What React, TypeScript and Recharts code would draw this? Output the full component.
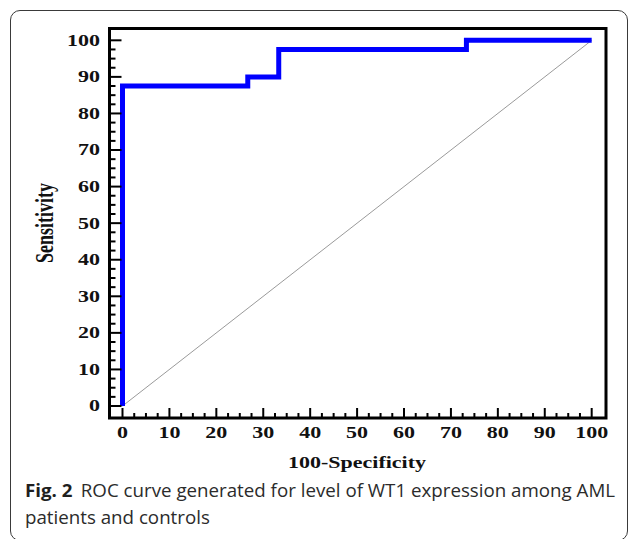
import { ComposedChart, Line, XAxis, YAxis, ReferenceArea } from "recharts";

// ROC curve (100-specificity vs sensitivity)
const rocX = [0, 0, 26.7, 26.7, 33.3, 33.3, 73.3, 73.3, 100];
const rocY = [0, 87.5, 87.5, 90, 90, 97.5, 97.5, 100, 100];
// chance diagonal
const diagX = [0, 100];
const diagY = [0, 100];

const majorTicks = [0, 10, 20, 30, 40, 50, 60, 70, 80, 90, 100];
const minorStep = 2.5;

const xTitle = "100-Specificity";
const yTitle = "Sensitivity";
const captionBold = "Fig. 2";
const captionLine1 = "ROC curve generated for level of WT1 expression among AML";
const captionLine2 = "patients and controls";

const rocData = rocX.map((x, i) => ({ x, y: rocY[i] }));
const diagData = diagX.map((x, i) => ({ x, y: diagY[i] }));
const allTicks = majorTicks.flatMap((t) =>
  t < 100 ? [t, t + minorStep, t + 2 * minorStep, t + 3 * minorStep] : [t]
);

const W = 629;
const H = 539;
const PLOT_LEFT = 109.5;
const PLOT_RIGHT = 606;
const PLOT_TOP = 28.5;
const PLOT_BOTTOM = 418;
const Y_AXIS_W = 60;
const X_AXIS_H = 40;
const STRETCH = 1.375;
const SERIF = "'Liberation Serif', 'Times New Roman', serif";

const isMajor = (v: number) => Math.abs(v % 10) < 1e-6;

function XTick({ x, payload }: any) {
  const v = payload.value as number;
  const major = isMajor(v);
  return (
    <g>
      <line x1={x} x2={x} y1={PLOT_BOTTOM} y2={PLOT_BOTTOM - (major ? 10 : 5)} stroke="#000" strokeWidth={2} />
      {major && (
        <text
          transform={`translate(${x},${438}) scale(${STRETCH},1)`}
          textAnchor="middle"
          fontFamily={SERIF}
          fontWeight="bold"
          fontSize={16}
          fill="#111"
        >
          {v}
        </text>
      )}
    </g>
  );
}

function YTick({ y, payload }: any) {
  const v = payload.value as number;
  const major = isMajor(v);
  return (
    <g>
      <line x1={PLOT_LEFT} x2={PLOT_LEFT + (major ? 12 : 6)} y1={y} y2={y} stroke="#000" strokeWidth={2} />
      {major && (
        <text
          transform={`translate(${100},${y + 5.4}) scale(${STRETCH},1)`}
          textAnchor="end"
          fontFamily={SERIF}
          fontWeight="bold"
          fontSize={16}
          fill="#111"
        >
          {v}
        </text>
      )}
    </g>
  );
}

const renderXTitle = () => (
  <text
    transform={`translate(${357},${468}) scale(${STRETCH},1)`}
    textAnchor="middle"
    fontFamily={SERIF}
    fontWeight="bold"
    fontSize={16}
    fill="#111"
  >
    {xTitle}
  </text>
);

const renderYTitle = () => (
  <text
    transform={`translate(${53},${223}) scale(${STRETCH},1) rotate(-90)`}
    textAnchor="middle"
    fontFamily={SERIF}
    fontWeight="bold"
    fontSize={18}
    fill="#111"
  >
    {yTitle}
  </text>
);

export default function App() {
  return (
    <div
      style={{
        position: "absolute",
        left: 0,
        top: 0,
        width: W,
        height: H,
        overflow: "hidden",
        background: "#fff",
      }}
    >
      <div
        style={{
          position: "absolute",
          left: 10,
          top: 10,
          width: 618,
          height: 531,
          boxSizing: "border-box",
          border: "1px solid #3a3a3a",
          borderRadius: 10,
        }}
      />
      <div style={{ position: "absolute", left: 0, top: 0 }}>
        <ComposedChart
          width={W}
          height={H}
          margin={{
            left: PLOT_LEFT - Y_AXIS_W,
            right: W - PLOT_RIGHT,
            top: PLOT_TOP,
            bottom: H - PLOT_BOTTOM - X_AXIS_H,
          }}
        >
          <XAxis
            dataKey="x"
            type="number"
            domain={[-2.77, 103.05]}
            allowDataOverflow
            ticks={allTicks}
            interval={0}
            tick={<XTick />}
            tickLine={false}
            axisLine={false}
            tickSize={0}
            height={X_AXIS_H}
            label={{ content: renderXTitle }}
          />
          <YAxis
            dataKey="y"
            type="number"
            domain={[-3.28, 103.23]}
            allowDataOverflow
            ticks={allTicks}
            interval={0}
            tick={<YTick />}
            tickLine={false}
            axisLine={false}
            tickSize={0}
            width={Y_AXIS_W}
            label={{ content: renderYTitle }}
          />
          <Line
            data={diagData}
            dataKey="y"
            type="linear"
            stroke="#9a9a9a"
            strokeWidth={1}
            dot={false}
            activeDot={false}
            isAnimationActive={false}
          />
          <Line
            data={rocData}
            dataKey="y"
            type="linear"
            stroke="#0000ff"
            strokeWidth={5}
            strokeLinejoin="miter"
            dot={false}
            activeDot={false}
            isAnimationActive={false}
          />
          <ReferenceArea
            x1={-2.77}
            x2={103.05}
            y1={-3.28}
            y2={103.23}
            fill="none"
            stroke="#000"
            strokeWidth={3}
            ifOverflow="visible"
          />
        </ComposedChart>
      </div>
      <div
        style={{
          position: "absolute",
          left: 25,
          top: 477,
          fontFamily: "'Open Sans', 'Noto Sans', sans-serif",
          fontSize: 18,
          lineHeight: "27px",
          color: "#2b2b2b",
          whiteSpace: "nowrap",
          transform: "scaleX(1.04)",
          transformOrigin: "0 0",
        }}
      >
        <div>
          <span style={{ fontWeight: 700, color: "#1f1f1f" }}>{captionBold}</span>
          <span style={{ marginLeft: 8 }}>{captionLine1}</span>
        </div>
        <div>{captionLine2}</div>
      </div>
    </div>
  );
}
